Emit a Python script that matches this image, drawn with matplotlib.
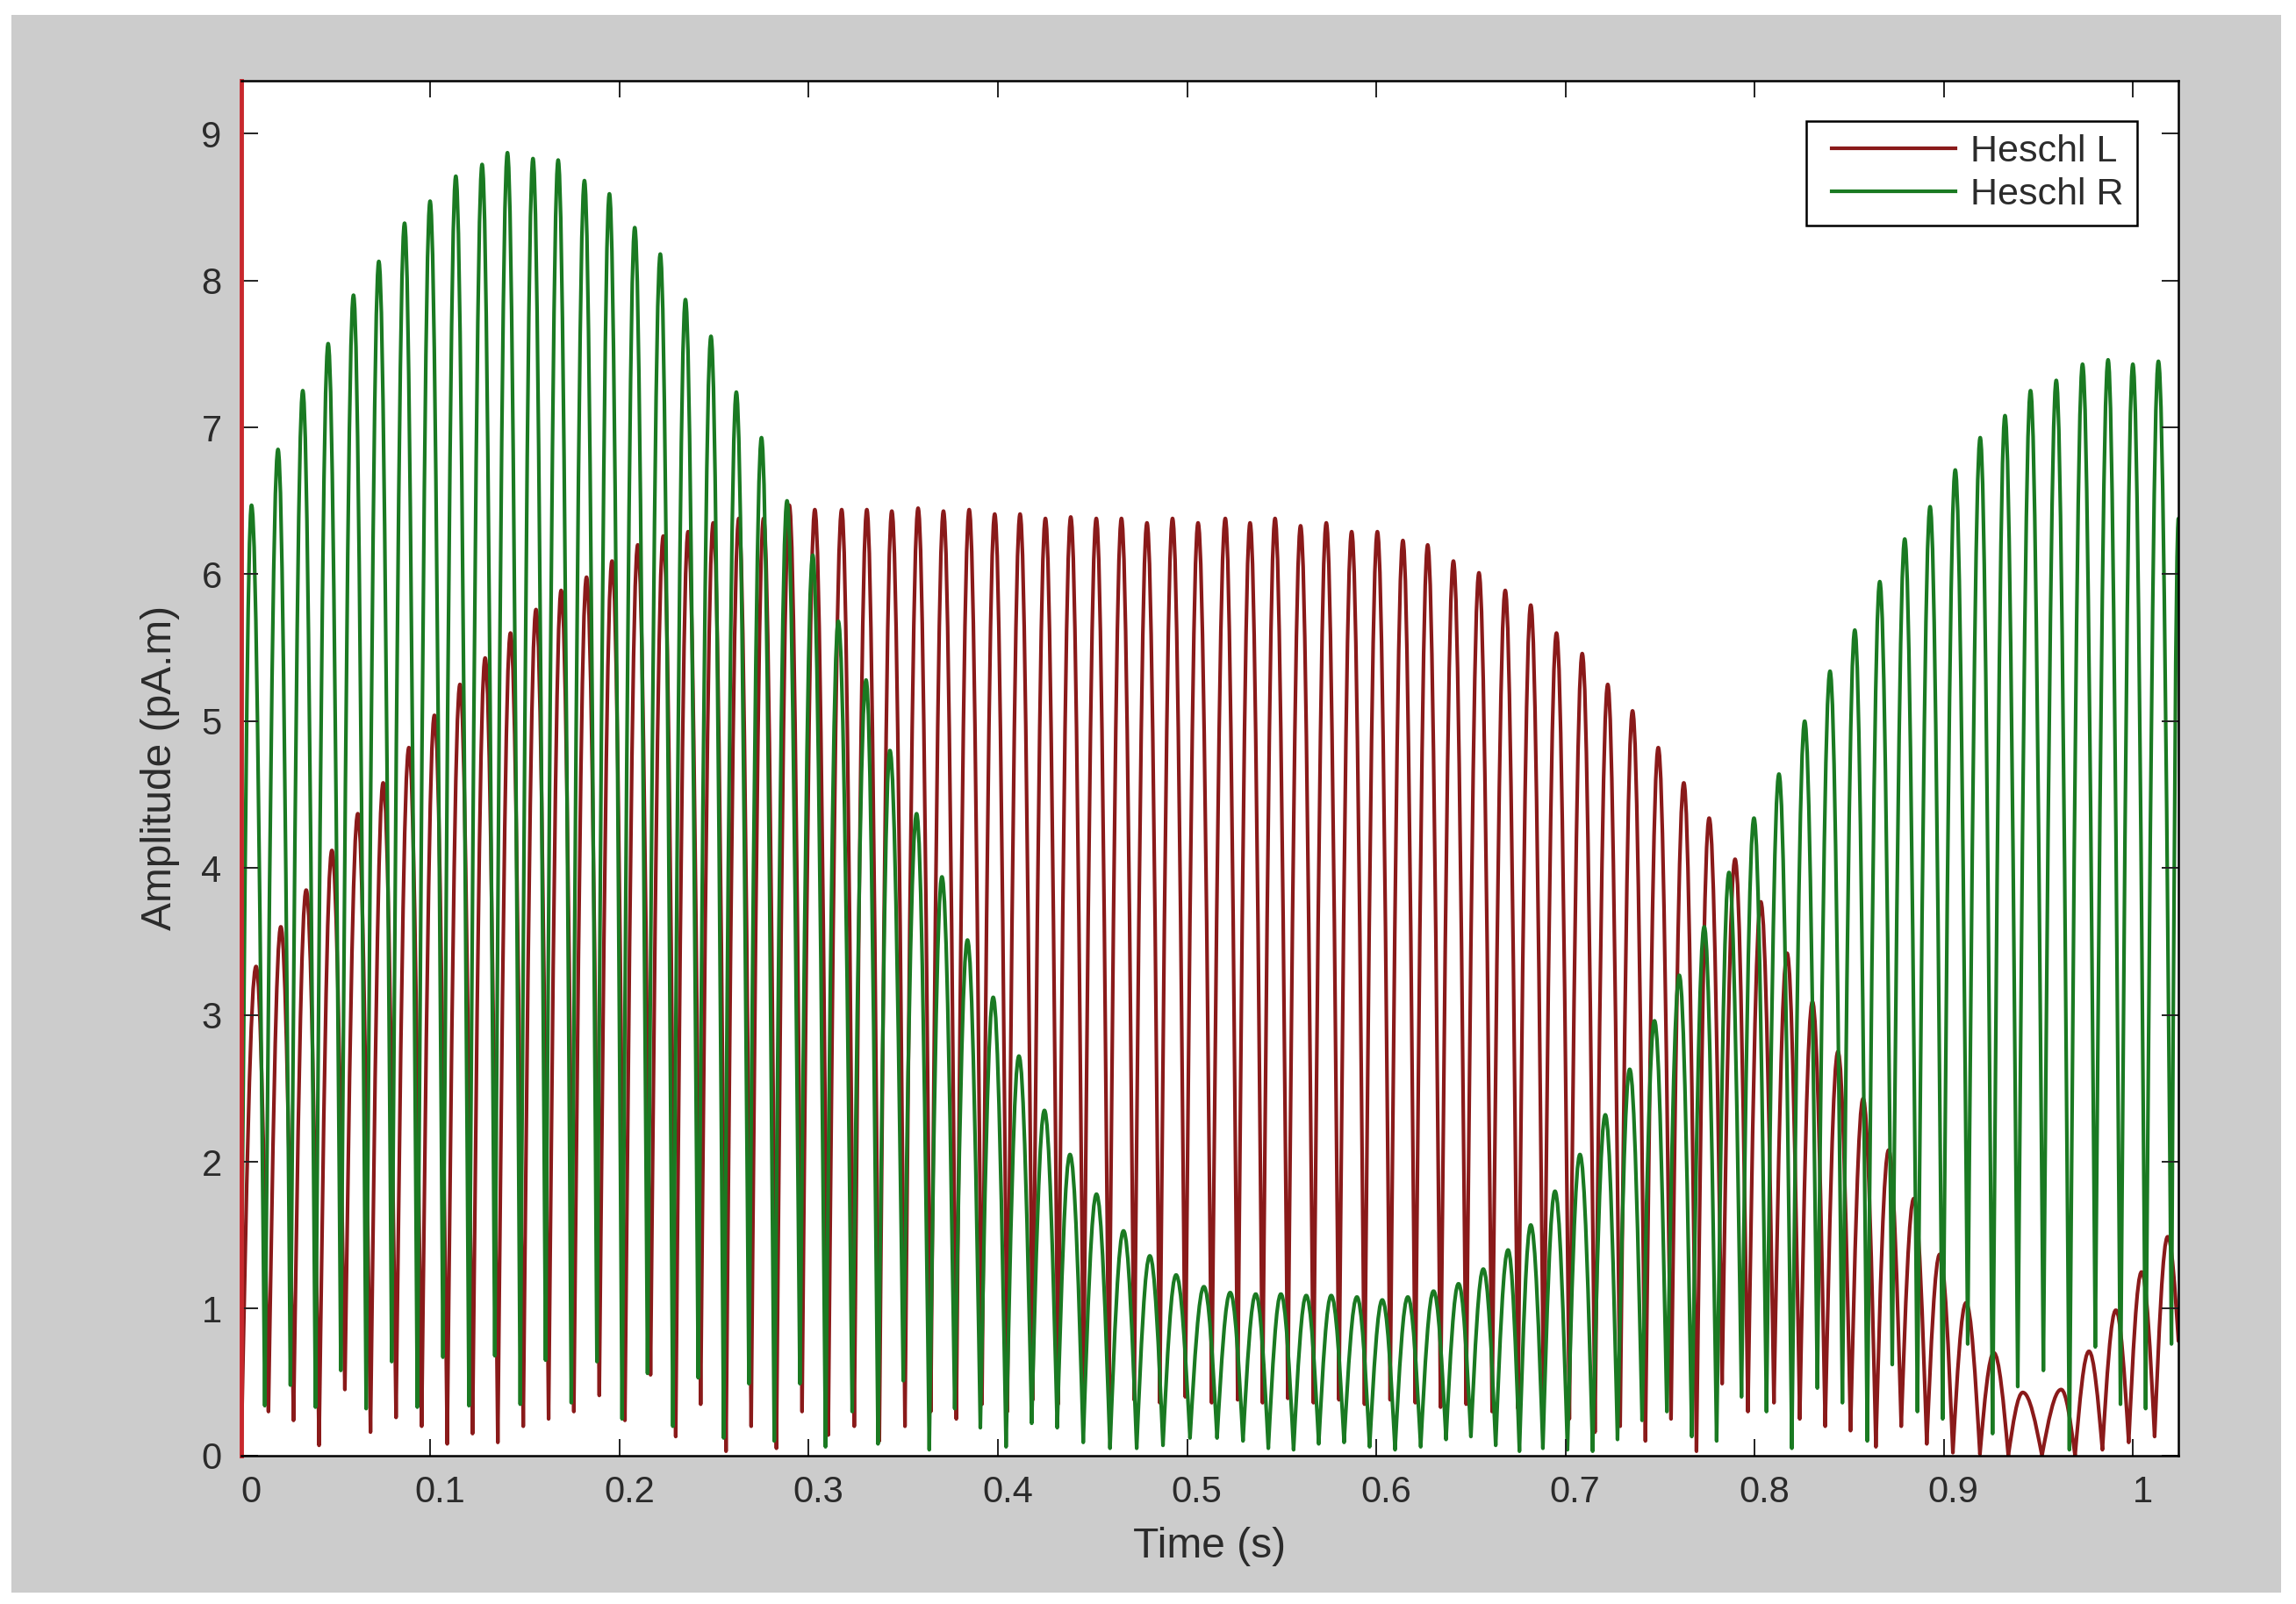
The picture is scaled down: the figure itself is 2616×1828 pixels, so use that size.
import matplotlib
matplotlib.use('Agg')
import matplotlib.pyplot as plt
import numpy as np
from matplotlib.patches import Rectangle, PathPatch
from matplotlib.path import Path
from matplotlib.lines import Line2D
from matplotlib.legend_handler import HandlerLine2D
from matplotlib.transforms import ScaledTranslation

plt.rcParams['font.family'] = ['Liberation Sans', 'DejaVu Sans']

# Heschl L (red): peak times (s), peak heights, minima between peaks
left_peak_t = [0.0078, 0.0209, 0.0343, 0.0479, 0.0616, 0.0750, 0.0886, 0.1021, 0.1156, 0.1289,
               0.1423, 0.1558, 0.1691, 0.1825, 0.1960, 0.2096, 0.2231, 0.2362, 0.2495, 0.2630,
               0.2761, 0.2897, 0.3032, 0.3174, 0.3307, 0.3439, 0.3578, 0.3712, 0.3848, 0.3983,
               0.4117, 0.4251, 0.4385, 0.4520, 0.4653, 0.4788, 0.4923, 0.5058, 0.5202, 0.5333,
               0.5465, 0.5600, 0.5736, 0.5870, 0.6006, 0.6141, 0.6272, 0.6408, 0.6543, 0.6682,
               0.6817, 0.6953, 0.7089, 0.7224, 0.7355, 0.7491, 0.7626, 0.7760, 0.7897, 0.8033,
               0.8172, 0.8306, 0.8441, 0.8574, 0.8709, 0.8842, 0.8979, 0.9118, 0.9265, 0.9418,
               0.9621, 0.9768, 0.9910, 1.0046, 1.0184]
left_peak_v = [3.33, 3.60, 3.85, 4.12, 4.37, 4.58, 4.82, 5.04, 5.25, 5.43,
               5.60, 5.76, 5.89, 5.98, 6.09, 6.20, 6.26, 6.29, 6.35, 6.38,
               6.38, 6.47, 6.44, 6.44, 6.44, 6.43, 6.45, 6.43, 6.44, 6.41,
               6.41, 6.38, 6.39, 6.38, 6.38, 6.35, 6.38, 6.35, 6.38, 6.35,
               6.38, 6.33, 6.35, 6.29, 6.29, 6.23, 6.20, 6.09, 6.01, 5.89,
               5.79, 5.60, 5.46, 5.25, 5.07, 4.82, 4.58, 4.34, 4.06, 3.77,
               3.42, 3.09, 2.75, 2.43, 2.08, 1.75, 1.37, 1.04, 0.70, 0.43,
               0.45, 0.71, 0.99, 1.25, 1.49]
left_trough_v = [0.30, 0.24, 0.07, 0.45, 0.16, 0.26, 0.20, 0.08, 0.15, 0.09,
                 0.20, 0.25, 0.30, 0.41, 0.24, 0.55, 0.13, 0.35, 0.03, 0.20,
                 0.05, 0.30, 0.14, 0.20, 0.10, 0.20, 0.30, 0.25, 0.35, 0.30,
                 0.38, 0.35, 0.40, 0.36, 0.38, 0.36, 0.40, 0.36, 0.38, 0.36,
                 0.39, 0.36, 0.38, 0.35, 0.38, 0.36, 0.33, 0.35, 0.30, 0.32,
                 0.30, 0.25, 0.16, 0.20, 0.10, 0.25, 0.03, 0.49, 0.30, 0.36,
                 0.25, 0.20, 0.17, 0.06, 0.20, 0.08, 0.02, 0.01, 0.00, 0.00,
                 0.00, 0.04, 0.09, 0.13]
left_head_t, left_head_v = [0.0], [0.05]
left_tail_t, left_tail_v = [1.0241], [0.78]

# Heschl R (green)
right_peak_t = [0.0054, 0.0194, 0.0325, 0.0459, 0.0593, 0.0727, 0.0863, 0.0998, 0.1134, 0.1273,
                0.1407, 0.1542, 0.1675, 0.1814, 0.1946, 0.2080, 0.2215, 0.2348, 0.2483, 0.2617,
                0.2750, 0.2885, 0.3021, 0.3156, 0.3303, 0.3429, 0.3570, 0.3704, 0.3839, 0.3975,
                0.4111, 0.4246, 0.4381, 0.4521, 0.4664, 0.4803, 0.4942, 0.5089, 0.5228, 0.5363,
                0.5496, 0.5630, 0.5762, 0.5898, 0.6032, 0.6167, 0.6303, 0.6435, 0.6566, 0.6697,
                0.6817, 0.6945, 0.7077, 0.7211, 0.7340, 0.7471, 0.7602, 0.7734, 0.7865, 0.7997,
                0.8129, 0.8265, 0.8399, 0.8530, 0.8662, 0.8794, 0.8928, 0.9061, 0.9193, 0.9324,
                0.9459, 0.9595, 0.9734, 0.9869, 1.0000, 1.0135]
right_peak_v = [6.47, 6.85, 7.25, 7.57, 7.90, 8.13, 8.39, 8.54, 8.71, 8.79,
                8.87, 8.83, 8.82, 8.68, 8.59, 8.36, 8.18, 7.87, 7.62, 7.24,
                6.93, 6.50, 6.13, 5.68, 5.28, 4.80, 4.37, 3.94, 3.51, 3.12,
                2.72, 2.35, 2.05, 1.78, 1.53, 1.36, 1.23, 1.15, 1.11, 1.10,
                1.10, 1.09, 1.09, 1.08, 1.06, 1.08, 1.12, 1.17, 1.27, 1.40,
                1.57, 1.80, 2.05, 2.32, 2.63, 2.96, 3.27, 3.60, 3.97, 4.34,
                4.64, 5.00, 5.34, 5.62, 5.95, 6.24, 6.46, 6.71, 6.93, 7.08,
                7.25, 7.32, 7.43, 7.46, 7.43, 7.45]
right_trough_v = [0.34, 0.48, 0.33, 0.58, 0.32, 0.64, 0.33, 0.67, 0.34, 0.68,
                  0.35, 0.65, 0.36, 0.64, 0.25, 0.56, 0.20, 0.53, 0.12, 0.49,
                  0.10, 0.49, 0.06, 0.30, 0.08, 0.51, 0.04, 0.32, 0.19, 0.06,
                  0.22, 0.19, 0.09, 0.05, 0.05, 0.07, 0.12, 0.12, 0.10, 0.05,
                  0.04, 0.08, 0.09, 0.06, 0.04, 0.06, 0.11, 0.13, 0.07, 0.03,
                  0.05, 0.04, 0.03, 0.11, 0.24, 0.30, 0.13, 0.10, 0.40, 0.30,
                  0.05, 0.46, 0.36, 0.10, 0.62, 0.30, 0.25, 0.76, 0.15, 0.47,
                  0.58, 0.04, 0.74, 0.35, 0.32]
right_head_t, right_head_v = [0.0], [0.90]
right_tail_t, right_tail_v = [1.0204, 1.0241], [0.76, 6.38]

x_ticks = [0, 0.1, 0.2, 0.3, 0.4, 0.5, 0.6, 0.7, 0.8, 0.9, 1.0]
x_tick_labels = ['0', '0.1', '0.2', '0.3', '0.4', '0.5', '0.6', '0.7', '0.8', '0.9', '1']
y_ticks = list(range(10))

RED = '#8a1a1a'
GREEN = '#1a7a22'


def turning_points(peak_t, peak_v, trough_v, head_t, head_v, tail_t, tail_v):
    """Peaks and the minima between them, in time order."""
    peak_t = np.asarray(peak_t)
    trough_t = (peak_t[:-1] + peak_t[1:]) / 2
    t, v = list(head_t), list(head_v)
    for i in range(len(peak_t)):
        t.append(peak_t[i])
        v.append(peak_v[i])
        if i < len(trough_v):
            t.append(trough_t[i])
            v.append(trough_v[i])
    return t + list(tail_t), v + list(tail_v)


def wave_path(t, v):
    """Rectified-sine style strokes: rounded at the maxima, sharp at the minima."""
    verts = [(t[0], v[0])]
    codes = [Path.MOVETO]
    for (ta, va), (tb, vb) in zip(zip(t[:-1], v[:-1]), zip(t[1:], v[1:])):
        dt, dv = tb - ta, vb - va
        if dv > 0:
            c1 = (ta + 0.3265 * dt, va + 0.5128 * dv)
            c2 = (ta + 0.638 * dt, vb)
        else:
            c1 = (ta + 0.362 * dt, va)
            c2 = (ta + 0.6735 * dt, va + 0.4872 * dv)
        verts += [c1, c2, (tb, vb)]
        codes += [Path.CURVE4] * 3
    return Path(verts, codes)


class RightLine(HandlerLine2D):
    # legend line drawn on the right part of the handle box only
    def create_artists(self, legend, orig_handle, xdescent, ydescent, width,
                       height, fontsize, trans):
        arts = super().create_artists(legend, orig_handle, xdescent, ydescent,
                                      width, height, fontsize, trans)
        x = arts[0].get_xdata()
        y = arts[0].get_ydata()
        arts[0].set_data([x[0] + 0.09 * (x[-1] - x[0]), x[-1]], [y[0], y[-1]])
        return arts


fig = plt.figure(figsize=(26.16, 18.28), dpi=100)
fig.patch.set_facecolor('white')
fig.patches.append(Rectangle((0.005, 0.0071), 0.9885, 0.9836, transform=fig.transFigure,
                             facecolor='#cccccc', edgecolor='none', zorder=-10))

ax = fig.add_axes([0.1051, 0.0925, 0.8437, 0.8572])
ax.set_zorder(1)
ax.set_facecolor('white')

for pk_t, pk_v, tr_v, h_t, h_v, e_t, e_v, col in [
        (left_peak_t, left_peak_v, left_trough_v, left_head_t, left_head_v,
         left_tail_t, left_tail_v, RED),
        (right_peak_t, right_peak_v, right_trough_v, right_head_t, right_head_v,
         right_tail_t, right_tail_v, GREEN)]:
    t, v = turning_points(pk_t, pk_v, tr_v, h_t, h_v, e_t, e_v)
    ax.add_patch(PathPatch(wave_path(t, v), fill=False, edgecolor=col, lw=3.0,
                           joinstyle='round', capstyle='round'))

ax.set_xlim(0, 1.0241)
ax.set_ylim(0, 9.36)
ax.set_xticks(x_ticks)
ax.set_xticklabels(x_tick_labels)
ax.set_yticks(y_ticks)
ax.tick_params(direction='in', length=14, width=1.4, top=True, right=True,
               labelsize=30, pad=16, labelcolor='#2b2b2b', color='#222222')

# x tick labels sit a little right of their ticks in the original
shift = ScaledTranslation(11 / 100, 0, fig.dpi_scale_trans)
for lab in ax.xaxis.get_majorticklabels():
    lab.set_transform(lab.get_transform() + shift)

for side in ['top', 'right', 'bottom']:
    ax.spines[side].set_color('black')
    ax.spines[side].set_linewidth(1.8)
ax.spines['left'].set_color('#c8282d')
ax.spines['left'].set_linewidth(3.5)

ax.set_xlabel('Time (s)', fontsize=34.5, color='#2b2b2b')
ax.xaxis.set_label_coords(0.5, -0.0664)
ax.xaxis.label.set_va('center')
ax.set_ylabel('Amplitude (pA.m)', fontsize=34.5, color='#2b2b2b')
ax.yaxis.set_label_coords(-0.042, 0.5)
ax.yaxis.label.set_va('center')

handles = [Line2D([], [], color=RED, lw=3.0), Line2D([], [], color=GREEN, lw=3.0)]
leg = ax.legend(handles, ['Heschl L', 'Heschl R'], loc='upper right',
                bbox_to_anchor=(0.9787, 0.9706), borderaxespad=0,
                fontsize=31, frameon=True, fancybox=False, edgecolor='black',
                handlelength=3.6, handletextpad=0.4, labelspacing=0.2,
                borderpad=0.35, framealpha=1, handler_map={Line2D: RightLine()})
leg.get_frame().set_linewidth(1.8)
for t in leg.get_texts():
    t.set_color('#2b2b2b')

fig.savefig('out.png', dpi=100, facecolor=fig.get_facecolor())
